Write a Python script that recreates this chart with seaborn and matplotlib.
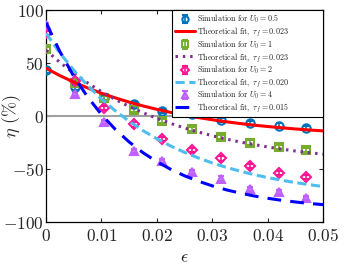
import numpy as np
import matplotlib
matplotlib.use("Agg")
import matplotlib.pyplot as plt
import seaborn as sns

# Simulation points
eps_sim = [0.0, 0.0053, 0.0105, 0.0158, 0.021, 0.0263, 0.0316, 0.0368, 0.042, 0.047]
eta_u05 = [43, 27, 17, 11, 5, 1.5, -4, -6.5, -9, -11]
eta_u1 = [63, 31, 17, 6, -4.5, -12.5, -20, -25, -29, -32]
eta_u2 = [78, 33, 7.5, -8, -22, -32, -40, -47, -54, -57.5]
eta_u4 = [86, 21, -6, -33, -42.5, -53, -59, -69, -72, -77]
err_sim = [2, 2, 2, 2, 2, 2, 2, 2, 2, 2]

# Theoretical fits
eps_fit = [0.0, 0.0025, 0.005, 0.0075, 0.01, 0.0125, 0.015, 0.0175, 0.02, 0.0225, 0.025,
           0.0275, 0.03, 0.0325, 0.035, 0.0375, 0.04, 0.0425, 0.045, 0.0475, 0.05]
fit_u05 = [45.0, 38.1, 32.0, 26.5, 21.5, 17.1, 13.1, 9.5, 6.3, 3.4, 0.9,
           -1.5, -3.5, -5.4, -7.1, -8.6, -9.9, -11.1, -12.2, -13.2, -14.0]
fit_u1 = [62.0, 50.6, 40.4, 31.2, 23.0, 15.6, 9.0, 3.1, -2.2, -7.0, -11.3,
          -15.1, -18.6, -21.7, -24.5, -26.9, -29.2, -31.2, -33.0, -34.6, -36.0]
fit_u2 = [78.0, 59.5, 43.2, 28.8, 16.1, 4.9, -5.0, -13.8, -21.5, -28.3, -34.3,
          -39.6, -44.3, -48.4, -52.0, -55.3, -58.1, -60.6, -62.8, -64.8, -66.5]
fit_u4 = [88.0, 60.7, 37.5, 18.0, 1.4, -12.6, -24.5, -34.6, -43.1, -50.3, -56.4,
          -61.5, -65.9, -69.6, -72.7, -75.4, -77.6, -79.5, -81.1, -82.5, -83.6]

x_ticks = [0, 0.01, 0.02, 0.03, 0.04, 0.05]
x_tick_labels = ["0", "0.01", "0.02", "0.03", "0.04", "0.05"]
y_ticks = [-100, -50, 0, 50, 100]
y_tick_labels = ["-100", "-50", "0", "50", "100"]

sns.set_theme(style="ticks")
plt.rcParams["font.family"] = ["DejaVu Serif"]
plt.rcParams["mathtext.fontset"] = "cm"

fig = plt.figure(figsize=(3.57, 2.67), dpi=100)
ax = fig.add_axes([0.129, 0.1685, 0.776, 0.794])

ax.axhline(0, color="#a0a0a0", linewidth=1.5, zorder=1)

sims = [
    (eta_u05, "#0072BD", "o", r"$\mathrm{Simulation\ for\ }U_0 = 0.5$"),
    (eta_u1, "#77AC30", "s", r"$\mathrm{Simulation\ for\ }U_0 = 1$"),
    (eta_u2, "#FF1493", "D", r"$\mathrm{Simulation\ for\ }U_0 = 2$"),
    (eta_u4, "#BF5FFF", "^", r"$\mathrm{Simulation\ for\ }U_0 = 4$"),
]
fits = [
    (fit_u05, "#FF0000", "-", r"$\mathrm{Theoretical\ fit,\ }\tau_f = 0.023$"),
    (fit_u1, "#7E2F8E", (0, (0.8, 1.6)), r"$\mathrm{Theoretical\ fit,\ }\tau_f = 0.023$"),
    (fit_u2, "#4DBEEE", (0, (3, 1.5)), r"$\mathrm{Theoretical\ fit,\ }\tau_f = 0.020$"),
    (fit_u4, "#0000FF", (0, (4.5, 3)), r"$\mathrm{Theoretical\ fit,\ }\tau_f = 0.015$"),
]

handles = []
labels = []
for (vals, col, mk, lab), (fvals, fcol, ls, flab) in zip(sims, fits):
    h = ax.errorbar(eps_sim, vals, yerr=err_sim, fmt=mk, color=col, mfc="none",
                    mec=col, ms=6 if mk != "D" else 5, mew=1.5, capsize=2.5,
                    elinewidth=1.2, zorder=3)
    sns.lineplot(x=eps_fit, y=fvals, ax=ax, color=fcol, linestyle=ls, linewidth=2.2,
                 zorder=4)
    handles.append(h)
    labels.append(lab)
    handles.append(ax.get_lines()[-1])
    labels.append(flab)

ax.set_xlim(0, 0.05)
ax.set_ylim(-100, 100)
ax.set_xticks(x_ticks)
ax.set_xticklabels(["$" + t + "$" for t in x_tick_labels])
ax.set_yticks(y_ticks)
ax.set_yticklabels(["$" + t + "$" for t in y_tick_labels])
ax.tick_params(direction="in", top=True, right=True, labelsize=12.5, length=3,
               width=0.8)
ax.tick_params(axis="y", pad=1.5)
ax.tick_params(axis="x", pad=4)
for s in ax.spines.values():
    s.set_linewidth(0.9)
    s.set_color("black")

ax.set_xlabel(r"$\epsilon$", fontsize=13)
ax.set_ylabel(r"$\eta\ (\%)$", fontsize=13)
ax.yaxis.set_label_coords(-0.083, 0.5)
ax.xaxis.set_label_coords(0.5, -0.125)

leg = ax.legend(handles, labels, loc="upper left", bbox_to_anchor=(0.455, 0.0, 0.545, 1.0),
                mode="expand", fontsize=5.8, frameon=True, markerscale=0.75,
                fancybox=False, edgecolor="black", framealpha=1, borderaxespad=0,
                handlelength=2.5, handletextpad=0.3, labelspacing=0.0,
                handleheight=0.6, borderpad=0.35)
leg.get_frame().set_linewidth(0.8)

fig.savefig("out.png", dpi=100)
